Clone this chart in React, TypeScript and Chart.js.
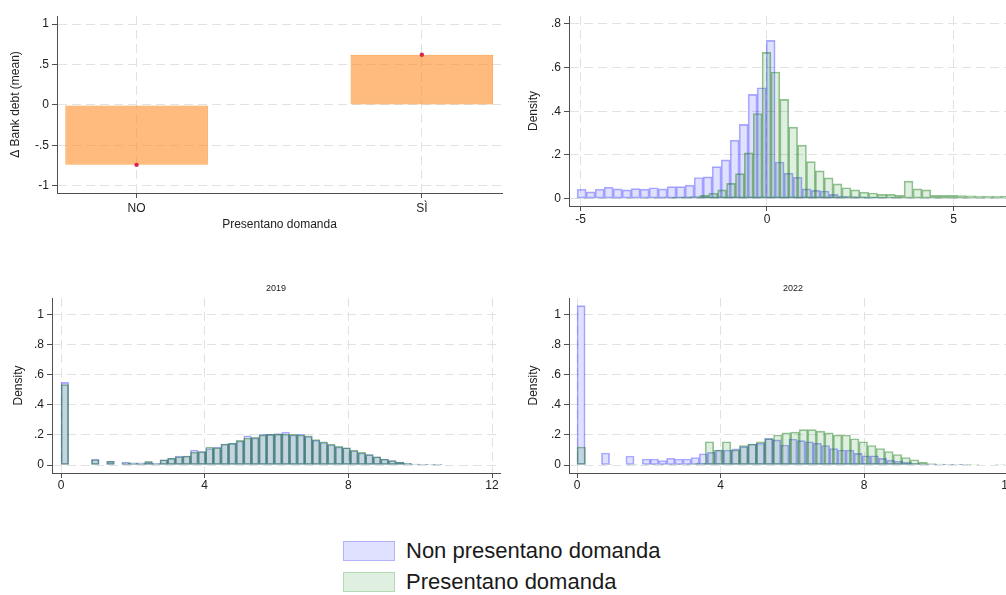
import React, { useEffect, useRef } from 'react';
import { Chart, registerables } from 'chart.js';

Chart.register(...registerables);

// ---------------- DATA ----------------
// Panel 1: mean of Δ bank debt by group
const GROUP_LABELS = ['NO', 'SÌ'];
const GROUP_POSITIONS = [0, 1];
const GROUP_MEANS = [-0.74, 0.62];
const MEAN_Y_TICKS = [-1, -0.5, 0, 0.5, 1];

// Panel 2: density of Δ bank debt
const DELTA_NON_START = -5.09;
const DELTA_NON_WIDTH = 0.2413;
const DELTA_NON_DENSITY = [
  0.043, 0.031, 0.043, 0.053, 0.045, 0.04, 0.046, 0.044, 0.05, 0.045,
  0.055, 0.055, 0.062, 0.097, 0.1, 0.147, 0.178, 0.268, 0.34, 0.478,
  0.508, 0.725, 0.168, 0.117, 0.098, 0.045, 0.038, 0.035, 0.02, 0.012,
  0.01, 0.008, 0.006, 0.006, 0.005, 0.005, 0.004, 0.004, 0.004, 0.004,
  0.004, 0.003, 0.003, 0.003, 0.003, 0.003, 0.003, 0.003, 0.003, 0.003,
];
const DELTA_PRES_START = -5.13;
const DELTA_PRES_WIDTH = 0.238;
const DELTA_PRES_DENSITY = [
  0.002, 0.002, 0.002, 0.002, 0.003, 0.002, 0.003, 0.003, 0.004, 0.004,
  0.005, 0.006, 0.008, 0.01, 0.015, 0.025, 0.04, 0.07, 0.115, 0.21,
  0.39, 0.67, 0.58, 0.455, 0.328, 0.245, 0.17, 0.127, 0.095, 0.068,
  0.05, 0.04, 0.03, 0.026, 0.02, 0.02, 0.015, 0.08, 0.045, 0.04,
  0.015, 0.015, 0.015, 0.014, 0.013, 0.012, 0.012, 0.012, 0.011, 0.011,
];
const DELTA_X_TICKS = [-5, 0, 5];
const DELTA_Y_TICKS = [0, 0.2, 0.4, 0.6, 0.8];

// Panel 3: 2019 levels
const Y2019_TITLE = '2019';
const Y2019_NON_START = 0;
const Y2019_NON_WIDTH = 0.212;
const Y2019_NON_DENSITY = [
  0.55, null, null, null, 0.04, null, 0.025, null, 0.018, 0.012,
  0.015, 0.02, 0.012, 0.035, 0.045, 0.06, 0.06, 0.1, 0.09, 0.11,
  0.12, 0.14, 0.145, 0.16, 0.195, 0.18, 0.205, 0.205, 0.21, 0.22,
  0.2, 0.205, 0.19, 0.165, 0.15, 0.135, 0.12, 0.115, 0.095, 0.08,
  0.07, 0.055, 0.04, 0.03, 0.02, 0.012, 0.006, 0.004, 0.002, 0.001,
];
const Y2019_PRES_START = 0;
const Y2019_PRES_WIDTH = 0.212;
const Y2019_PRES_DENSITY = [
  0.535, null, null, null, 0.035, null, 0.025, null, 0.015, 0.015,
  0.01, 0.025, 0.01, 0.035, 0.045, 0.055, 0.06, 0.085, 0.09, 0.12,
  0.115, 0.14, 0.145, 0.165, 0.18, 0.185, 0.2, 0.205, 0.205, 0.205,
  0.205, 0.2, 0.195, 0.17, 0.155, 0.14, 0.125, 0.115, 0.1, 0.085,
  0.07, 0.055, 0.04, 0.03, 0.02, 0.012, 0.007, 0.004, 0.002, 0.001,
];

// Panel 4: 2022 levels
const Y2022_TITLE = '2022';
const Y2022_NON_START = 0;
const Y2022_NON_WIDTH = 0.227;
const Y2022_NON_DENSITY = [
  1.06, null, null, 0.08, null, null, 0.06, null, 0.04, 0.04,
  0.03, 0.045, 0.04, 0.04, 0.05, 0.075, 0.085, 0.1, 0.1, 0.107,
  0.122, 0.14, 0.145, 0.178, 0.167, 0.133, 0.173, 0.162, 0.155, 0.145,
  0.13, 0.11, 0.1, 0.1, 0.078, 0.062, 0.062, 0.044, 0.033, 0.025,
  0.02, 0.012, 0.008, 0.005, 0.003, 0.002, 0.002, 0.001,
];
const Y2022_PRES_START = 0;
const Y2022_PRES_WIDTH = 0.238;
const Y2022_PRES_DENSITY = [
  0.12, null, null, 0.005, null, null, 0.003, null, 0.002, 0.003,
  0.003, 0.004, 0.005, 0.008, 0.012, 0.155, 0.1, 0.155, 0.1, 0.13,
  0.14, 0.155, 0.175, 0.2, 0.215, 0.22, 0.235, 0.235, 0.225, 0.215,
  0.2, 0.2, 0.175, 0.155, 0.13, 0.11, 0.09, 0.07, 0.05, 0.035,
  0.02, 0.01, 0.006, 0.004, 0.003, 0.002, 0.002, null, null, 0.003,
];
const LEVEL_X_TICKS = [0, 4, 8, 12];
const LEVEL_Y_TICKS = [0, 0.2, 0.4, 0.6, 0.8, 1];

const LEGEND_LABELS = ['Non presentano domanda', 'Presentano domanda'];
const MEAN_Y_TITLE = 'Δ Bank debt (mean)';
const MEAN_X_TITLE = 'Presentano domanda';
const DENSITY_TITLE = 'Density';

// ---------------- STYLE ----------------
const FONT_FAMILY = "'Liberation Sans', Arial, Helvetica, sans-serif";
const TEXT = '#222222';
const AXIS = '#505050';
const GRID = '#e2e2e2';
const NON_FILL = 'rgba(0,0,255,0.12)';
const NON_BORDER = 'rgba(0,0,255,0.32)';
const PRES_FILL = 'rgba(0,128,0,0.12)';
const PRES_BORDER = 'rgba(0,110,0,0.42)';
const ORANGE_FILL = 'rgba(253,141,38,0.6)';
const ORANGE_BORDER = 'rgba(250,140,40,0.8)';
const DOT = '#d8264f';

const fmtTick = (v: number) => {
  const r = Math.round(v * 1000) / 1000;
  return String(r).replace(/^(-?)0\./, '$1.');
};

const histPoints = (start: number, width: number, values: (number | null)[]) =>
  values
    .map((v, i) => (v == null ? null : { x: start + (i + 0.5) * width, y: v }))
    .filter((p) => p !== null);

function axis(o: {
  min: number;
  max: number;
  ticks: number[];
  size: number;
  horizontal: boolean;
  labels?: (v: number) => string;
  title?: any;
  tickPad?: number;
}) {
  return {
    type: 'linear',
    min: o.min,
    max: o.max,
    bounds: 'data',
    offset: false,
    position: o.horizontal ? 'bottom' : 'left',
    afterBuildTicks: (s: any) => {
      s.ticks = o.ticks.map((value) => ({ value }));
    },
    afterFit: (s: any) => {
      if (o.horizontal) s.height = o.size;
      else s.width = o.size;
    },
    ticks: {
      autoSkip: false,
      maxRotation: 0,
      minRotation: 0,
      padding: o.tickPad ?? 3,
      color: TEXT,
      font: { family: FONT_FAMILY, size: 12 },
      callback: (v: any) => (o.labels ? o.labels(Number(v)) : fmtTick(Number(v))),
    },
    grid: {
      offset: false,
      color: GRID,
      lineWidth: 1,
      drawTicks: true,
      tickLength: 5,
      tickColor: AXIS,
      tickWidth: 1,
    },
    border: { display: true, color: AXIS, width: 1, dash: [9, 5] },
    title: o.title || { display: false },
  };
}

const hiddenX = (min: number, max: number) => ({
  type: 'linear',
  min,
  max,
  bounds: 'data',
  offset: false,
  display: false,
  position: 'bottom',
});

const yTitle = (pad: number) => ({
  display: true,
  text: DENSITY_TITLE,
  color: TEXT,
  font: { family: FONT_FAMILY, size: 12 },
  padding: { top: pad, bottom: 0 },
});

const histDataset = (
  label: string,
  pts: any[],
  fill: string,
  border: string,
  axisId: string,
  order: number
) => ({
  type: 'bar',
  label,
  data: pts,
  xAxisID: axisId,
  yAxisID: 'y',
  backgroundColor: fill,
  borderColor: border,
  borderWidth: 1,
  borderSkipped: false,
  barPercentage: 1,
  categoryPercentage: 1,
  grouped: false,
  order,
  clip: 0,
});

const basePlugins = (title?: string) => ({
  legend: { display: false },
  tooltip: { enabled: false },
  title: title
    ? {
        display: true,
        text: title,
        color: TEXT,
        fullSize: false,
        font: { family: FONT_FAMILY, size: 9, weight: 'normal' },
        padding: { top: 3.6, bottom: 3.6 },
      }
    : { display: false },
});

// ---------------- CONFIGS ----------------
function meanConfig(): any {
  return {
    type: 'bar',
    data: {
      datasets: [
        {
          type: 'line',
          label: 'mean',
          data: GROUP_POSITIONS.map((x, i) => ({ x, y: GROUP_MEANS[i] })),
          showLine: false,
          pointRadius: 2.2,
          pointStyle: 'circle',
          backgroundColor: DOT,
          borderColor: DOT,
          borderWidth: 0,
          order: 0,
        },
        {
          type: 'bar',
          label: 'Δ Bank debt',
          data: GROUP_POSITIONS.map((x, i) => ({ x, y: GROUP_MEANS[i] })),
          backgroundColor: ORANGE_FILL,
          borderColor: ORANGE_BORDER,
          borderWidth: 1,
          borderSkipped: false,
          barPercentage: 0.5,
          categoryPercentage: 1,
          order: 1,
        },
      ],
    },
    options: {
      responsive: false,
      animation: false,
      events: [],
      layout: { padding: { left: 0, top: 16, right: 8, bottom: 0 } },
      plugins: basePlugins(),
      scales: {
        x: axis({
          min: -0.279,
          max: 1.281,
          ticks: GROUP_POSITIONS,
          size: 47,
          horizontal: true,
          labels: (v) => GROUP_LABELS[Math.round(v)] ?? '',
          title: {
            display: true,
            text: MEAN_X_TITLE,
            color: TEXT,
            font: { family: FONT_FAMILY, size: 12 },
            padding: { top: 0, bottom: 7.8 },
          },
        }),
        y: axis({
          min: -1.088,
          max: 1.099,
          ticks: MEAN_Y_TICKS,
          size: 57,
          horizontal: false,
          title: {
            display: true,
            text: MEAN_Y_TITLE,
            color: TEXT,
            font: { family: FONT_FAMILY, size: 12 },
            padding: { top: 8.8, bottom: 0 },
          },
        }),
      },
    },
  };
}

function deltaConfig(): any {
  const xmin = -5.308;
  const xmax = 6.622;
  return {
    type: 'bar',
    data: {
      datasets: [
        histDataset(LEGEND_LABELS[0], histPoints(DELTA_NON_START, DELTA_NON_WIDTH, DELTA_NON_DENSITY), NON_FILL, NON_BORDER, 'x', 2),
        histDataset(LEGEND_LABELS[1], histPoints(DELTA_PRES_START, DELTA_PRES_WIDTH, DELTA_PRES_DENSITY), PRES_FILL, PRES_BORDER, 'x2', 1),
      ],
    },
    options: {
      responsive: false,
      animation: false,
      events: [],
      layout: { padding: { left: 0, top: 16, right: 36, bottom: 0 } },
      plugins: basePlugins(),
      scales: {
        x: axis({ min: xmin, max: xmax, ticks: DELTA_X_TICKS, size: 34, horizontal: true, tickPad: 1 }),
        x2: hiddenX(xmin, xmax),
        y: axis({ min: -0.0336, max: 0.8366, ticks: DELTA_Y_TICKS, size: 59, horizontal: false, title: yTitle(16.8) }),
      },
    },
  };
}

function levelConfig(
  title: string,
  nonPts: any[],
  presPts: any[],
  xmin: number,
  xmax: number,
  yWidth: number,
  padRight: number,
  titlePad: number
): any {
  return {
    type: 'bar',
    data: {
      datasets: [
        histDataset(LEGEND_LABELS[0], nonPts, NON_FILL, NON_BORDER, 'x', 2),
        histDataset(LEGEND_LABELS[1], presPts, PRES_FILL, PRES_BORDER, 'x2', 1),
      ],
    },
    options: {
      responsive: false,
      animation: false,
      events: [],
      layout: { padding: { left: 0, top: 0, right: padRight, bottom: 0 } },
      plugins: basePlugins(title),
      scales: {
        x: axis({ min: xmin, max: xmax, ticks: LEVEL_X_TICKS, size: 27, horizontal: true, tickPad: 0 }),
        x2: hiddenX(xmin, xmax),
        y: axis({ min: -0.053, max: 1.111, ticks: LEVEL_Y_TICKS, size: yWidth, horizontal: false, title: yTitle(titlePad) }),
      },
    },
  };
}

// ---------------- COMPONENTS ----------------
function ChartBox(props: { left: number; top: number; width: number; height: number; make: () => any }) {
  const ref = useRef<HTMLCanvasElement>(null);
  useEffect(() => {
    const chart = new Chart(ref.current as HTMLCanvasElement, props.make());
    return () => chart.destroy();
  }, []);
  return (
    <div style={{ position: 'absolute', left: props.left, top: props.top, width: props.width, height: props.height }}>
      <canvas
        ref={ref}
        width={props.width}
        height={props.height}
        style={{ display: 'block', width: props.width, height: props.height }}
      />
    </div>
  );
}

function Legend() {
  const fills = [NON_FILL, PRES_FILL];
  const tops = [541, 572];
  return (
    <>
      {LEGEND_LABELS.map((lab, i) => (
        <React.Fragment key={lab}>
          <div
            style={{
              position: 'absolute',
              left: 343,
              top: tops[i],
              width: 52,
              height: 20,
              boxSizing: 'border-box',
              background: fills[i],
              border: `1px solid ${i === 0 ? 'rgba(0,0,255,0.2)' : 'rgba(0,128,0,0.2)'}`,
            }}
          />
          <div
            style={{
              position: 'absolute',
              left: 406,
              top: tops[i] - 3,
              height: 26,
              lineHeight: '26px',
              fontFamily: FONT_FAMILY,
              fontSize: 22,
              color: '#1a1a1a',
              whiteSpace: 'nowrap',
            }}
          >
            {lab}
          </div>
        </React.Fragment>
      ))}
    </>
  );
}

export default function App() {
  const y2019Non = histPoints(Y2019_NON_START, Y2019_NON_WIDTH, Y2019_NON_DENSITY);
  const y2019Pres = histPoints(Y2019_PRES_START, Y2019_PRES_WIDTH, Y2019_PRES_DENSITY);
  const y2022Non = histPoints(Y2022_NON_START, Y2022_NON_WIDTH, Y2022_NON_DENSITY);
  const y2022Pres = histPoints(Y2022_PRES_START, Y2022_PRES_WIDTH, Y2022_PRES_DENSITY);
  return (
    <div
      style={{
        position: 'fixed',
        left: 0,
        top: 0,
        width: 1006,
        height: 595,
        overflow: 'hidden',
        background: '#ffffff',
      }}
    >
      <ChartBox left={0} top={0} width={510} height={240} make={meanConfig} />
      <ChartBox left={510} top={0} width={540} height={240} make={deltaConfig} />
      <ChartBox
        left={0}
        top={280}
        width={510}
        height={220}
        make={() => levelConfig(Y2019_TITLE, y2019Non, y2019Pres, -0.251, 12.222, 52, 10, 11.1)}
      />
      <ChartBox
        left={510}
        top={280}
        width={540}
        height={220}
        make={() => levelConfig(Y2022_TITLE, y2022Non, y2022Pres, -0.223, 12.256, 59, 33, 16.8)}
      />
      <Legend />
    </div>
  );
}
